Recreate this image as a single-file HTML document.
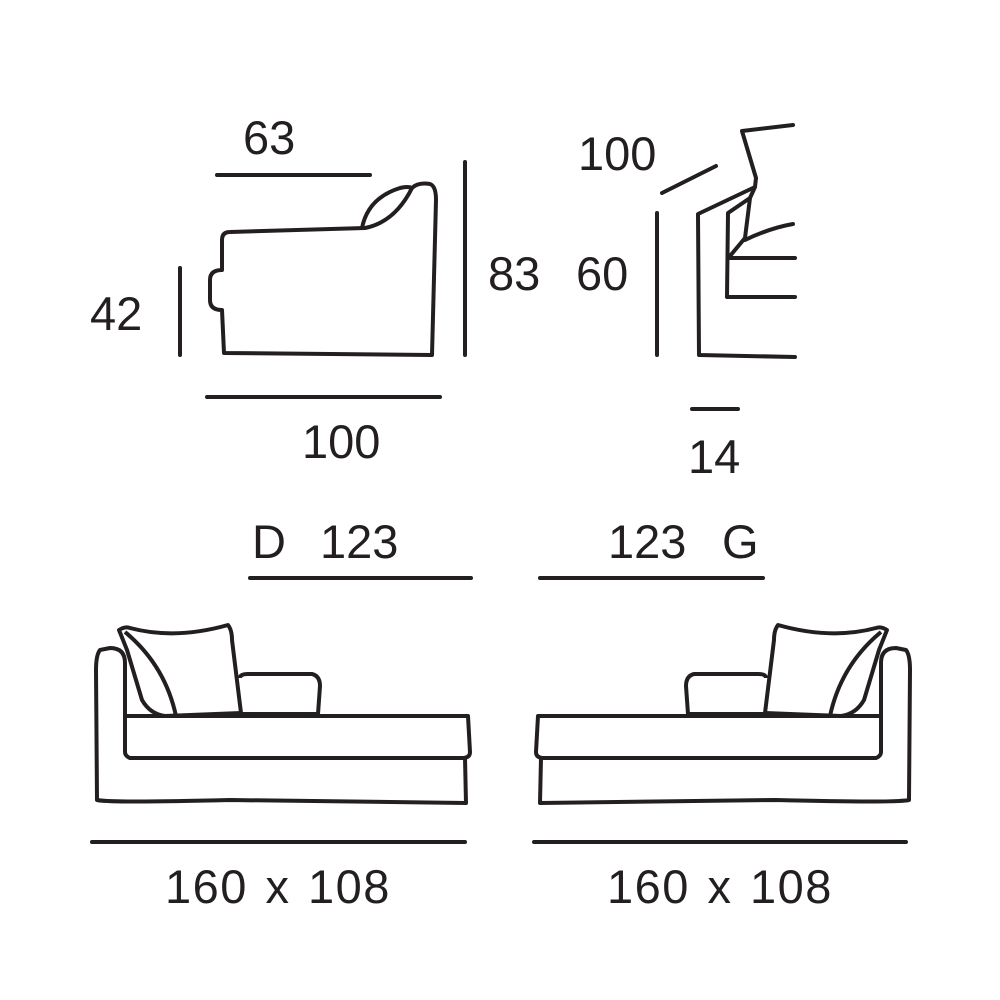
<!DOCTYPE html>
<html><head><style>body{margin:0;background:#fff}svg{display:block}text{font-family:"Liberation Sans",sans-serif;font-size:47px;fill:#231f20}</style></head>
<body>
<svg width="1000" height="1000" viewBox="0 0 1000 1000">
<g fill="none" stroke="#231f20" stroke-width="4" stroke-linecap="round" stroke-linejoin="round">
<line x1="217" y1="175" x2="370" y2="175"/>
<line x1="465" y1="162" x2="465" y2="355"/>
<line x1="180" y1="268" x2="180" y2="355"/>
<line x1="207" y1="397" x2="440" y2="397"/>
<line x1="657" y1="213" x2="657" y2="355"/>
<line x1="662" y1="193" x2="716" y2="166"/>
<line x1="692" y1="409" x2="738" y2="409"/>
<line x1="250" y1="578" x2="471" y2="578"/>
<line x1="540" y1="578" x2="763" y2="578"/>
<line x1="92" y1="842" x2="465" y2="842"/>
<line x1="534" y1="842" x2="906" y2="842"/>
<path d="M222,240 Q222,232 230,232 L365,228 Q395,222 412,188 Q418,182 430,184 Q436,186 436,200 L432,355 L224,353 L222,310 Q210,310 210,300 L210,280 Q210,270 222,270 Z"/>
<path d="M362,228 Q368,198 400,188 Q408,186 412,188"/>
<path d="M793,125 L742,131 L756,178 L755,187 L698,214 L699,355 L795,357"/>
<path d="M755,187 L750,198 L728,213 L727,297 L795,297"/>
<path d="M728,258 L795,258"/>
<path d="M745,240 Q770,228 793,224"/>
<path d="M750,198 L745,238 L730,256"/>
</g>
<g fill="none" stroke="#231f20" stroke-width="4" stroke-linejoin="round">
<g id="ch">
<path d="M125,752 L125,716 L468,716 L470,752 Q470,758 462,758 L130,758 Q125,756 125,752 Z"/>
<path d="M125,716 L125,663 Q125,648 110,648 L100,650 Q96,655 96,670 L97,800 Q110,803 230,800 Q350,802 466,803 L465,758"/>
<path d="M119,630 Q125,626 130,628 Q175,640 228,625 Q232,630 232,640 L241,713 L165,716 Q150,714 142,700 L127,650 Z"/>
<path d="M125,632 Q165,665 176,716"/>
<path d="M240,678 Q240,674 248,674 L312,674 Q320,676 320,686 L318,714 L242,714"/>
</g>
<use href="#ch" transform="translate(1006,0) scale(-1,1)"/>
</g>
<text x="243" y="154">63</text>
<text x="90" y="330">42</text>
<text x="488" y="290">83</text>
<text x="576" y="290">60</text>
<text x="578" y="170">100</text>
<text x="302" y="458">100</text>
<text x="688" y="473">14</text>
<text x="252" y="558">D</text>
<text x="320" y="558">123</text>
<text x="608" y="558">123</text>
<text x="722" y="558">G</text>
<text x="165" y="903" letter-spacing="1.5" word-spacing="3">160 x 108</text>
<text x="607" y="903" letter-spacing="1.5" word-spacing="3">160 x 108</text>
</svg>
</body></html>
